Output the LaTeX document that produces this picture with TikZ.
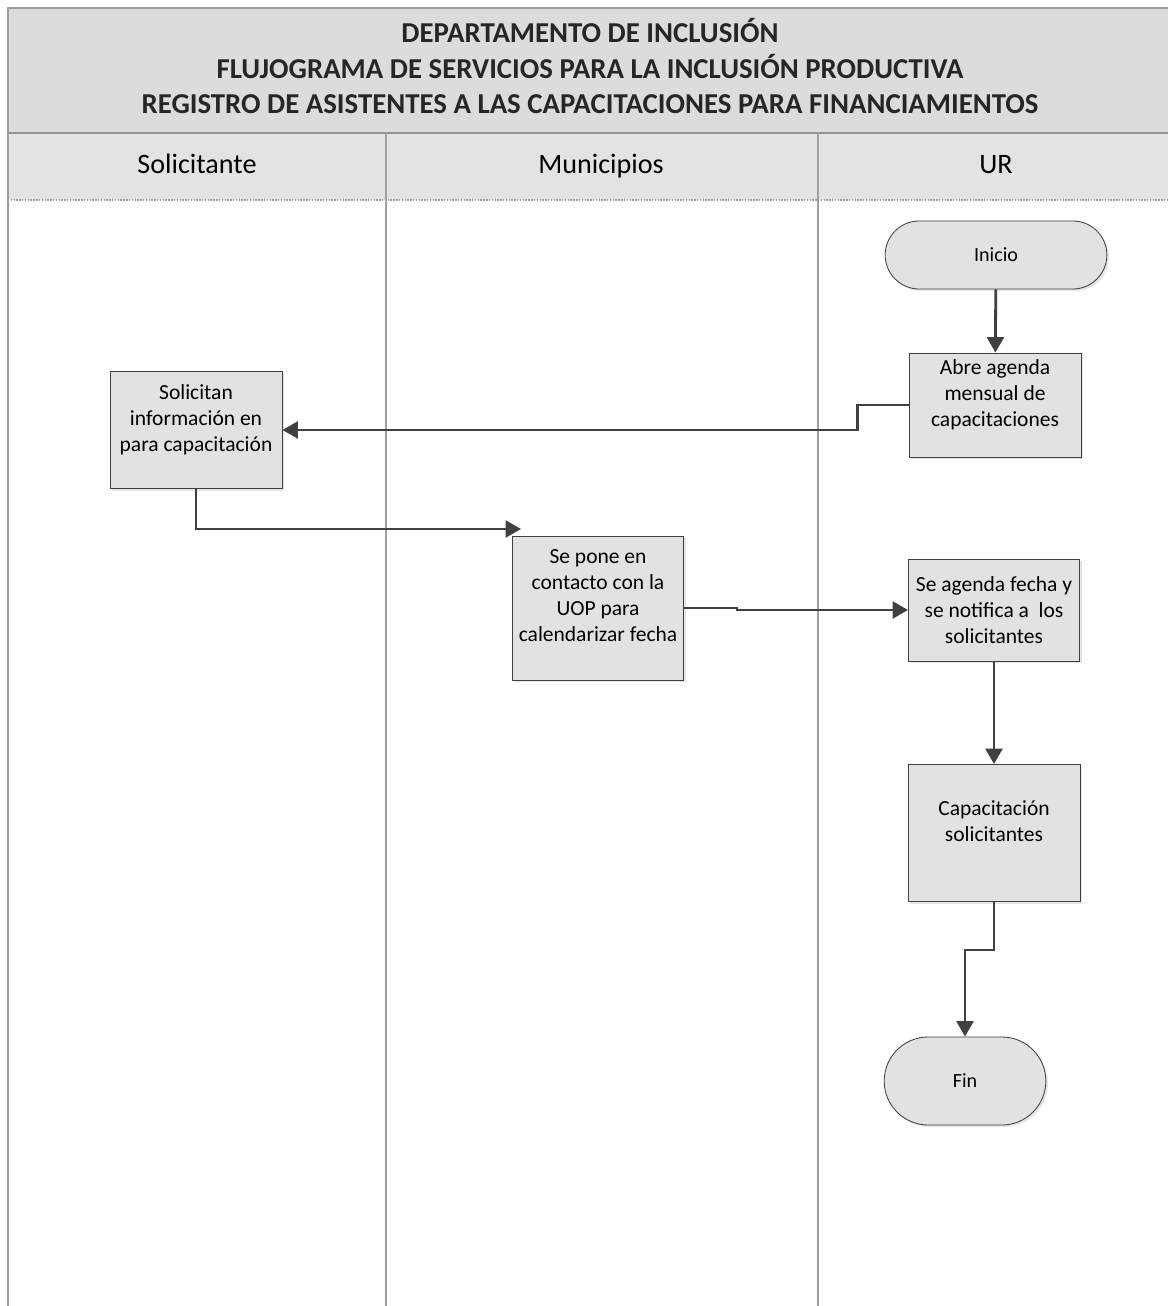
\documentclass[tikz,border=0pt]{standalone}
\usepackage{fontspec}
\setmainfont{Carlito}
\usepackage{tikz}
\usetikzlibrary{arrows.meta,shapes.misc,positioning,shadows}
\definecolor{bandgray}{HTML}{DCDCDC}
\definecolor{boxgray}{HTML}{E2E2E2}
\definecolor{linegray}{HTML}{404040}

\begin{document}
\begin{tikzpicture}[x=0.025cm, y=-0.025cm,
    proc/.style={draw=linegray, fill=boxgray, line width=0.6pt, align=center,
                 minimum width=4.3cm, font=\fontsize{15.3}{18.4}\selectfont,
                 drop shadow={shadow xshift=1.5pt, shadow yshift=-1.5pt, fill=gray!40}},
    raised/.style={text depth=17.5pt},
    term/.style={rounded rectangle, draw=linegray, fill=boxgray, line width=0.6pt,
                 font=\fontsize{14.3}{17}\selectfont,
                 drop shadow={shadow xshift=1.5pt, shadow yshift=-1.5pt, fill=gray!40}},
    flow/.style={draw=linegray, line width=2pt, -{Triangle[width=12pt, length=11pt]}},
    lane/.style={draw=gray!75, line width=1pt},
    head/.style={anchor=base, font=\fontsize{20}{24}\selectfont}]
  \useasboundingbox (0,0) rectangle (1168,1306);

  % title band and lane headers
  \fill[bandgray] (8,8) rectangle (1168,133);
  \fill[bandgray!80] (8,133) rectangle (1168,200);
  \draw[lane] (8,1306) -- (8,8) -- (1168,8);
  \draw[draw=gray!85, line width=1.2pt] (8,133) -- (1168,133);
  \draw[lane, densely dotted] (8,200) -- (1168,200);
  \draw[lane] (386,133) -- (386,1306);
  \draw[lane] (818,133) -- (818,1306);

  \node[font=\bfseries\fontsize{20.5}{25.5}\selectfont, align=center, text=black!85] (title) at (590,66)
    {DEPARTAMENTO DE INCLUSIÓN\\
     FLUJOGRAMA DE SERVICIOS PARA LA INCLUSIÓN PRODUCTIVA\\
     REGISTRO DE ASISTENTES A LAS CAPACITACIONES PARA FINANCIAMIENTOS};

  \node[head] (hsol) at (197,174) {Solicitante};
  \node[head] (hmun) at (601,174) {Municipios};
  \node[head] (hur) at (996,174) {UR};

  % process steps
  \node[term, minimum width=5.775cm, minimum height=1.7cm] (inicio) at (996,255) {Inicio};
  \node[proc, raised, minimum height=2.6cm] (abre) at (995,405)
    {Abre agenda\\mensual de\\capacitaciones};
  \node[proc, raised, minimum height=2.925cm] (solic) at (196,430)
    {Solicitan\\información en\\para capacitación};
  \node[proc, raised, minimum width=4.275cm, minimum height=3.6cm] (pone) at (598,608)
    {Se pone en\\contacto con la\\UOP para\\calendarizar fecha};
  \node[proc, minimum width=4.275cm, minimum height=2.55cm] (agenda) at (994,610)
    {Se agenda fecha y\\se notifica a~ los\\solicitantes};
  \node[proc, raised, minimum height=3.425cm] (capac) at (994,833)
    {Capacitación\\solicitantes};
  \node[term, minimum width=4.275cm, minimum height=2.2cm] (fin) at (965,1081) {Fin};

  \coordinate (tippone) at (521,529);

  % connectors
  \draw[flow] (inicio) -- (abre);
  \draw[flow] (abre.west) -- ++(-51,0) |- (solic.east);
  \draw[flow] (solic.south) |- (tippone);
  \draw[flow] (pone.east) -- ++(53,0) |- (agenda.west);
  \draw[flow] (agenda) -- (capac);
  \draw[flow] (capac.south) -- ++(0,48) -| (fin.north);
\end{tikzpicture}
\end{document}
